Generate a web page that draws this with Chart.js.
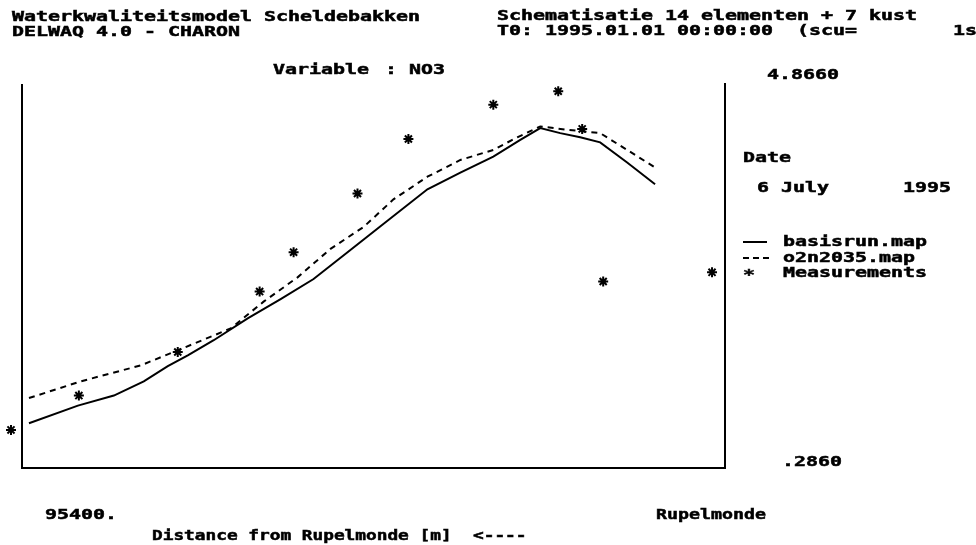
<!DOCTYPE html>
<html>
<head>
<meta charset="utf-8">
<script src="https://cdn.jsdelivr.net/npm/chart.js@4.4.1/dist/chart.umd.min.js"></script>
<style>
  html, body { margin: 0; padding: 0; background: #fff; }
  canvas { display: block; }
</style>
</head>
<body>
<canvas id="no3Chart" width="976" height="545"></canvas>
<script>
// Distance from Rupelmonde [m] and NO3
const basisDist = [94450, 87810, 82930, 78870, 75610, 72900, 69380, 64770, 60300, 55830, 51220,
                   46750, 40380, 35910, 31440, 27780, 25070, 22360, 19650, 16940, 13280, 9490];
const basisNO3  = [0.82, 1.03, 1.15, 1.32, 1.50, 1.63, 1.81, 2.07, 2.30, 2.54, 2.86,
                   3.17, 3.61, 3.81, 4.00, 4.20, 4.34, 4.28, 4.23, 4.17, 3.93, 3.67];

const scenDist = [94450, 87400, 79270, 74800, 67080, 62610, 58000, 53530, 49050, 44990, 40380,
                  35910, 31440, 28190, 25070, 21410, 16940, 13280, 9490];
const scenNO3  = [1.12, 1.32, 1.51, 1.67, 1.95, 2.27, 2.56, 2.90, 3.16, 3.49, 3.76,
                  3.96, 4.08, 4.23, 4.36, 4.32, 4.28, 4.08, 3.87];

const measDist = [96890, 87680, 74260, 63150, 58540, 49870, 42960, 31440, 22630, 19380, 16530, 1760];
const measNO3  = [0.74, 1.15, 1.67, 2.39, 2.86, 3.56, 4.21, 4.62, 4.78, 4.33, 2.51, 2.62];

const yMin = 0.286;
const yMax = 4.866;
const xMax = 95400;      // left end of the plotted section
const xScaleMax = 97160; // a little room so the upstream measurement stays visible
const yTickLabels = ['4.8660', '.2860'];
const xEndLabels = ['95400.', 'Rupelmonde'];

const CELL = 12; // character cell width of the plotter font

function pairs(xs, ys) {
    return xs.map((x, i) => ({ x: x, y: ys[i] }));
}

function monoText(ctx, str, x, y, cell) {
    ctx.save();
    ctx.font = 'bold 14px "DejaVu Sans Mono"';
    const adv = ctx.measureText('0').width;
    ctx.translate(x, y);
    ctx.scale((cell || CELL) / adv, 1);
    ctx.textBaseline = 'middle';
    ctx.textAlign = 'left';
    ctx.fillStyle = '#000';
    ctx.strokeStyle = '#000';
    ctx.lineWidth = 0.5;
    ctx.fillText(str, 0, 0);
    ctx.strokeText(str, 0, 0);
    ctx.restore();
}

// Frame, header and side panel texts
const plotterPlugin = {
    id: 'plotter',
    afterDraw(chart) {
        const ctx = chart.ctx;
        const a = chart.chartArea;
        const xs = chart.scales.x;
        const ys = chart.scales.y;
        const left = Math.round(xs.getPixelForValue(xMax));

        ctx.save();
        ctx.strokeStyle = '#000';
        ctx.lineWidth = 2;
        ctx.beginPath();
        ctx.moveTo(left, a.top);
        ctx.lineTo(left, a.bottom);
        ctx.lineTo(a.right, a.bottom);
        ctx.lineTo(a.right, a.top - 1);
        ctx.stroke();
        ctx.restore();

        monoText(ctx, 'Waterkwaliteitsmodel Scheldebakken', 12, 17);
        monoText(ctx, 'DELWAQ 4.0 - CHARON', 12, 32);
        monoText(ctx, 'Schematisatie 14 elementen + 7 kust', 497, 16);
        monoText(ctx, 'T0: 1995.01.01 00:00:00  (scu=        1s', 497, 31);
        monoText(ctx, 'Variable', 273, 70);
        monoText(ctx, ': NO3', 385, 70);

        monoText(ctx, yTickLabels[0], 767, ys.getPixelForValue(yMax) - 9);
        monoText(ctx, yTickLabels[1], 782, ys.getPixelForValue(yMin) - 6);

        monoText(ctx, 'Date', 743, 158);
        monoText(ctx, '6 July', 757, 188);
        monoText(ctx, '1995', 903, 188);

        // legend
        ctx.save();
        ctx.strokeStyle = '#000';
        ctx.lineWidth = 2;
        ctx.beginPath();
        ctx.moveTo(743, 242);
        ctx.lineTo(767, 242);
        ctx.stroke();
        ctx.setLineDash([6, 4]);
        ctx.beginPath();
        ctx.moveTo(743, 258);
        ctx.lineTo(769, 258);
        ctx.stroke();
        ctx.restore();
        monoText(ctx, 'basisrun.map', 783, 242);
        monoText(ctx, 'o2n2035.map', 783, 258);
        monoText(ctx, '*', 743, 275);
        monoText(ctx, 'Measurements', 783, 273);

        monoText(ctx, xEndLabels[0], 45, 515);
        monoText(ctx, xEndLabels[1], 656, 515, 11);
        monoText(ctx, 'Distance from Rupelmonde [m]  <----', 152, 536, 10.7);
    }
};

new Chart(document.getElementById('no3Chart'), {
    type: 'line',
    data: {
        datasets: [
            {
                label: 'basisrun.map',
                data: pairs(basisDist, basisNO3),
                borderColor: '#000',
                borderWidth: 2,
                pointRadius: 0,
                tension: 0
            },
            {
                label: 'o2n2035.map',
                data: pairs(scenDist, scenNO3),
                borderColor: '#000',
                borderWidth: 2,
                borderDash: [6, 5],
                pointRadius: 0,
                tension: 0
            },
            {
                label: 'Measurements',
                data: pairs(measDist, measNO3),
                showLine: false,
                pointStyle: 'star',
                pointRadius: 5,
                borderColor: '#000',
                backgroundColor: '#000',
                pointBorderWidth: 2,
                clip: false
            }
        ]
    },
    options: {
        responsive: false,
        animation: false,
        devicePixelRatio: 1,
        layout: { padding: { left: 9, right: 251, top: 84, bottom: 77 } },
        plugins: {
            legend: { display: false },
            tooltip: { enabled: false }
        },
        scales: {
            x: { type: 'linear', reverse: true, min: 0, max: xScaleMax, display: false },
            y: { type: 'linear', min: yMin, max: yMax, display: false }
        }
    },
    plugins: [plotterPlugin]
});
</script>
</body>
</html>
